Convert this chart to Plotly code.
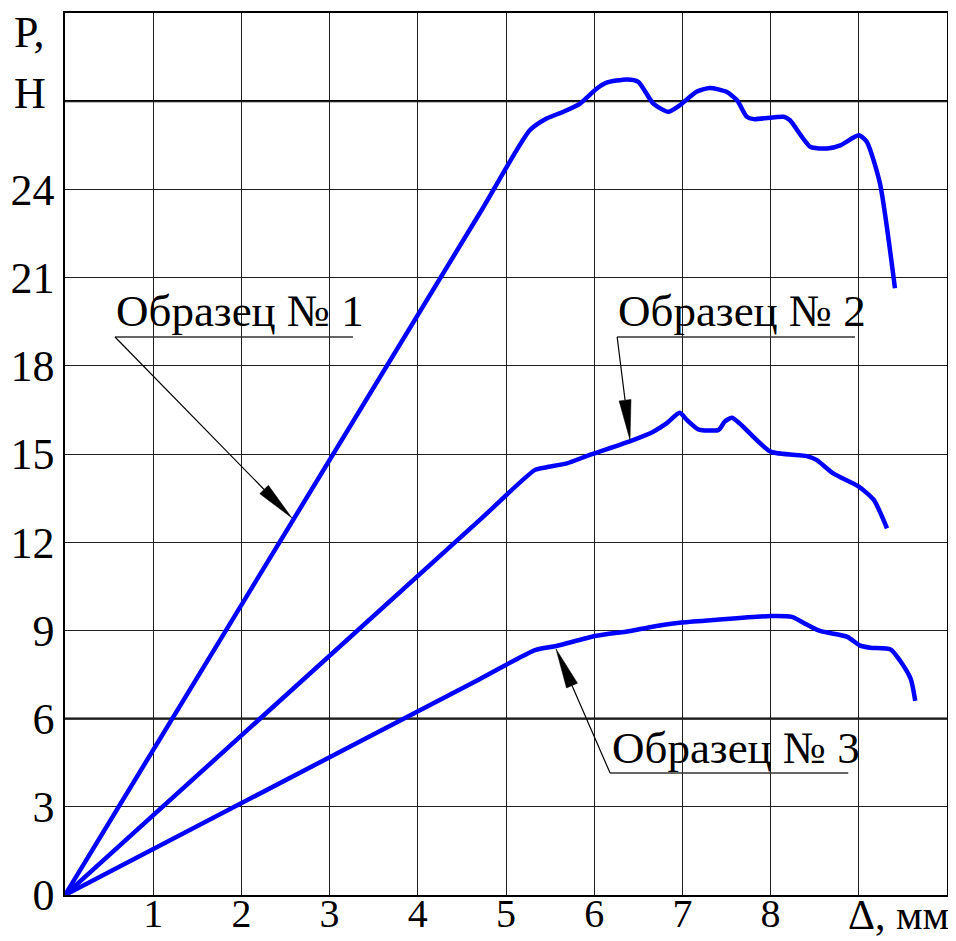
import math
import plotly.graph_objects as go

# ---------------- data ----------------
s1_x = [0, 4.70, 5.27, 5.46, 5.65, 5.84, 6.03, 6.14, 6.37, 6.50, 6.67, 6.84, 6.97, 7.16, 7.31,
        7.50, 7.62, 7.73, 7.81, 8.15, 8.22, 8.45, 8.64, 8.79, 9.00, 9.09, 9.24, 9.41]
s1_y = [0, 23.18, 26.01, 26.41, 26.64, 26.92, 27.43, 27.63, 27.74, 27.66, 26.92, 26.64, 26.86, 27.32, 27.45,
        27.32, 27.03, 26.47, 26.39, 26.47, 26.35, 25.45, 25.39, 25.50, 25.84, 25.62, 24.20, 20.64]

s2_x = [0, 4.70, 5.33, 5.46, 5.69, 5.95, 6.41, 6.67, 6.82, 6.97, 7.05, 7.18, 7.41, 7.48, 7.56,
        7.65, 8.00, 8.41, 8.52, 8.71, 9.00, 9.17, 9.32]
s2_y = [0, 12.75, 14.46, 14.55, 14.68, 14.97, 15.44, 15.76, 16.04, 16.40, 16.16, 15.84, 15.82, 16.10, 16.23,
        16.04, 15.08, 14.93, 14.80, 14.34, 13.89, 13.44, 12.47]

s3_x = [0, 4.70, 5.33, 5.57, 6.01, 6.41, 6.63, 6.97, 7.35, 8.00, 8.24, 8.41, 8.56, 8.87, 9.01,
        9.13, 9.36, 9.47, 9.59, 9.64]
s3_y = [0, 7.34, 8.33, 8.47, 8.81, 8.98, 9.11, 9.26, 9.35, 9.49, 9.46, 9.20, 8.98, 8.78, 8.49,
        8.41, 8.35, 7.96, 7.34, 6.60]

x_ticks = [0, 1, 2, 3, 4, 5, 6, 7, 8, 9, 10]
x_tick_text = ["", "1", "2", "3", "4", "5", "6", "7", "8", "", ""]
y_ticks = [0, 3, 6, 9, 12, 15, 18, 21, 24, 27, 30]
y_tick_text = ["0", "3", "6", "9", "12", "15", "18", "21", "24", "", ""]

labels = ["Образец № 1", "Образец № 2", "Образец № 3"]
label_x = [0.56, 6.25, 6.18]
label_y = [19.85, 19.85, 5.0]
underline_x0 = [0.567, 6.26, 6.18]
underline_x1 = [3.265, 8.957, 8.88]
underline_y = [18.98, 18.98, 4.15]
arrow_tail_x = [0.567, 6.26, 6.18]
arrow_tail_y = [18.98, 18.98, 4.15]
arrow_tip_x = [2.574, 6.406, 5.567]
arrow_tip_y = [12.82, 15.48, 8.37]

# ---------------- layout geometry ----------------
# page body has an 8px margin; the figure is sized so the plot lands where the reference has it
W, H = 948, 933
ML, MR, MT, MB = 57, 9, 5, 46
X_RANGE = [0, 10]
Y_RANGE = [0, 30]
PW, PH = W - ML - MR, H - MT - MB
sx = PW / (X_RANGE[1] - X_RANGE[0])
sy = PH / (Y_RANGE[1] - Y_RANGE[0])

FONT = "Liberation Serif"
FS = 44
FS_X = 40
FS_LAB = 45
BLUE = "#0000ff"

fig = go.Figure()
for xs, ys in [(s1_x, s1_y), (s2_x, s2_y), (s3_x, s3_y)]:
    fig.add_trace(go.Scatter(x=xs, y=ys, mode="lines",
                             line=dict(color=BLUE, width=4.5, shape="spline", smoothing=0.6),
                             showlegend=False, hoverinfo="skip"))

shapes = []
# thicker grid lines at 6 and 27
for yv in [6, 27]:
    shapes.append(dict(type="line", xref="x", yref="y", x0=X_RANGE[0], x1=X_RANGE[1], y0=yv, y1=yv,
                       line=dict(color="#000", width=2.2), layer="below"))

annotations = []
L_HEAD, W_HEAD = 40, 12
for i, lab in enumerate(labels):
    annotations.append(dict(text=lab, x=label_x[i], y=label_y[i], xref="x", yref="y",
                            xanchor="left", yanchor="middle", showarrow=False,
                            font=dict(family=FONT, size=FS_LAB, color="#000")))
    shapes.append(dict(type="line", xref="x", yref="y", x0=underline_x0[i], x1=underline_x1[i],
                       y0=underline_y[i], y1=underline_y[i], line=dict(color="#333", width=1.3)))
    # leader line + narrow filled arrowhead computed in pixel space
    dxp = (arrow_tip_x[i] - arrow_tail_x[i]) * sx
    dyp = (arrow_tip_y[i] - arrow_tail_y[i]) * sy
    n = math.hypot(dxp, dyp)
    ux, uy = dxp / n, dyp / n
    px, py = -uy, ux
    bx = arrow_tip_x[i] - L_HEAD * ux / sx
    by = arrow_tip_y[i] - L_HEAD * uy / sy
    c1x = bx + (W_HEAD / 2) * px / sx
    c1y = by + (W_HEAD / 2) * py / sy
    c2x = bx - (W_HEAD / 2) * px / sx
    c2y = by - (W_HEAD / 2) * py / sy
    shapes.append(dict(type="line", xref="x", yref="y", x0=arrow_tail_x[i], y0=arrow_tail_y[i],
                       x1=bx, y1=by, line=dict(color="#000", width=1.2)))
    shapes.append(dict(type="path", xref="x", yref="y",
                       path=f"M{arrow_tip_x[i]},{arrow_tip_y[i]} L{c1x},{c1y} L{c2x},{c2y} Z",
                       fillcolor="#000", line=dict(color="#000", width=0.5)))

# axis name labels
LEFT_X = (4 - ML) / PW
annotations.append(dict(text="P,", x=LEFT_X, y=29.35, xref="paper", yref="y",
                        xanchor="left", yanchor="middle", showarrow=False,
                        font=dict(family=FONT, size=FS, color="#000")))
annotations.append(dict(text="Н", x=LEFT_X, y=27.25, xref="paper", yref="y",
                        xanchor="left", yanchor="middle", showarrow=False,
                        font=dict(family=FONT, size=FS, color="#000")))
annotations.append(dict(text="Δ, мм", x=(890 - ML) / PW, y=-(907 - (MT + PH)) / PH,
                        xref="paper", yref="paper",
                        xanchor="center", yanchor="middle", showarrow=False,
                        font=dict(family=FONT, size=FS_X + 2, color="#000")))

axis_common = dict(showgrid=True, gridcolor="#1e1e1e", gridwidth=1.3, zeroline=False,
                   showline=True, linecolor="#000", linewidth=1.6, mirror=True, automargin=False,
                   ticks="")

fig.update_layout(
    width=W, height=H,
    margin=dict(l=ML, r=MR, t=MT, b=MB, autoexpand=False),
    paper_bgcolor="white", plot_bgcolor="white",
    xaxis=dict(range=X_RANGE, tickmode="array", tickvals=x_ticks, ticktext=x_tick_text,
               ticklabelstandoff=-18, tickfont=dict(family=FONT, size=FS_X, color="#000"),
               **axis_common),
    yaxis=dict(range=Y_RANGE, tickmode="array", tickvals=y_ticks, ticktext=y_tick_text,
               ticklabelstandoff=0, tickfont=dict(family=FONT, size=FS, color="#000"),
               **axis_common),
    shapes=shapes,
    annotations=annotations,
)

fig.write_html("out.html")
